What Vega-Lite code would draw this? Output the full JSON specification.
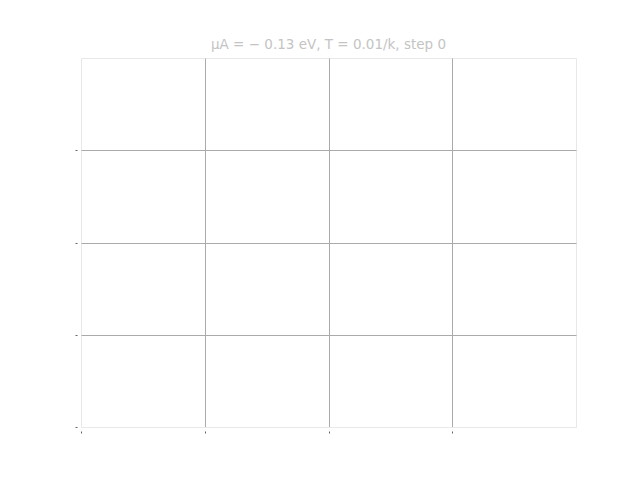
{
  "$schema": "https://vega.github.io/schema/vega-lite/v6.json",
  "width": 495,
  "height": 369,
  "autosize": {"type": "none"},
  "padding": {"left": 81, "top": 58, "right": 64, "bottom": 53},
  "background": "white",
  "title": {
    "text": "μA = − 0.13 eV, T = 0.01/k, step 0",
    "font": "DejaVu Sans",
    "fontSize": 13.5,
    "fontWeight": "normal",
    "color": "#c4c4c4",
    "anchor": "middle",
    "offset": 4
  },
  "config": {
    "view": {"stroke": "#e8e8e8", "strokeWidth": 1}
  },
  "data": {"values": [{"x": 0, "y": 0}, {"x": 4, "y": 4}]},
  "mark": {"type": "point", "opacity": 0},
  "encoding": {
    "x": {
      "field": "x", "type": "quantitative",
      "scale": {"domain": [0, 4], "nice": false, "zero": false},
      "axis": {
        "title": null, "labels": false, "domain": false,
        "values": [0, 1, 2, 3],
        "tickSize": 2, "tickColor": "#666", "offset": 4,
        "gridColor": {"condition": {"test": "datum.value === 0", "value": "#e8e8e8"}, "value": "#aaaaaa"},
        "gridOpacity": 1
      }
    },
    "y": {
      "field": "y", "type": "quantitative",
      "scale": {"domain": [0, 4], "nice": false, "zero": false},
      "axis": {
        "title": null, "labels": false, "domain": false,
        "values": [0, 1, 2, 3],
        "tickSize": 2, "tickColor": "#666", "offset": 4,
        "gridColor": {"condition": {"test": "datum.value === 0", "value": "#e8e8e8"}, "value": "#aaaaaa"},
        "gridOpacity": 1
      }
    }
  }
}
